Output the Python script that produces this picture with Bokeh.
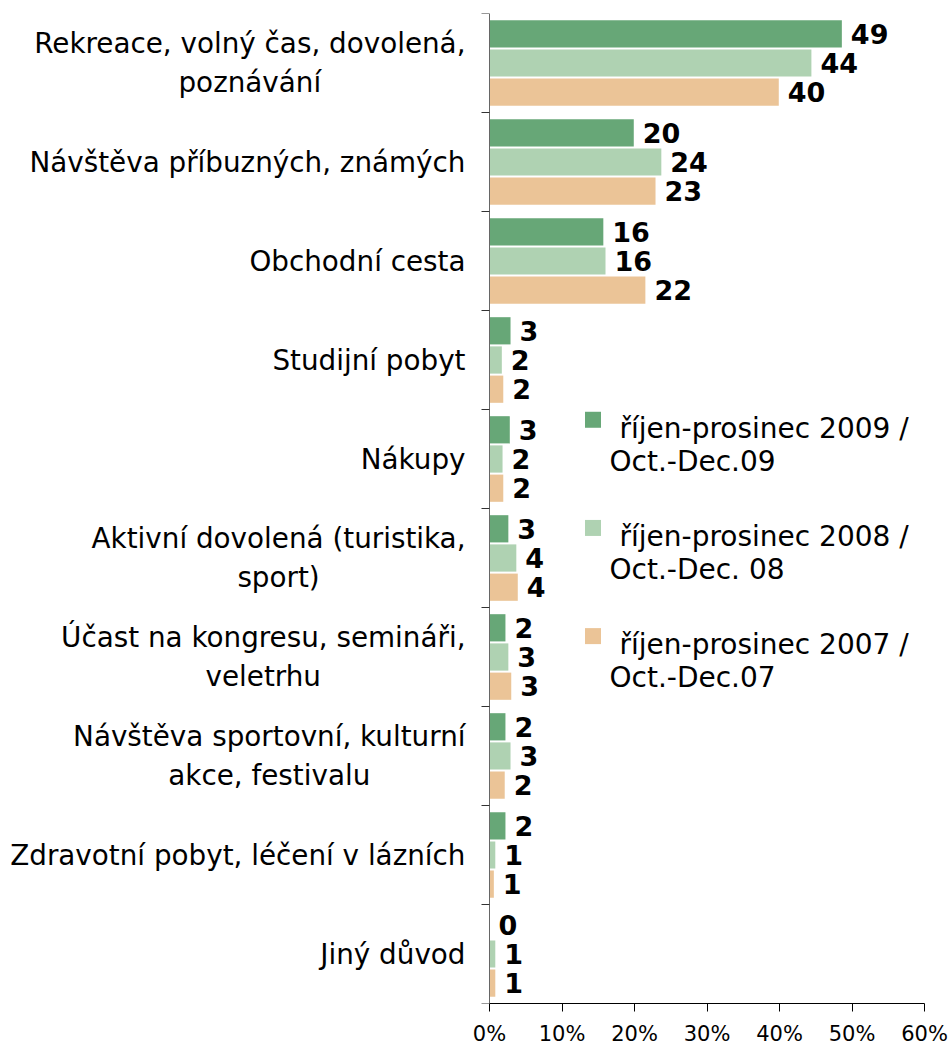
import glob
from bokeh.plotting import figure
from bokeh.models import ColumnDataSource, Range1d, FixedTicker
from bokeh.core.properties import value
from bokeh.embed import file_html
from bokeh.resources import INLINE

# ---------------- data ----------------
categories = [
    "Rekreace, volný čas, dovolená,\npoznávání",
    "Návštěva příbuzných, známých",
    "Obchodní cesta",
    "Studijní pobyt",
    "Nákupy",
    "Aktivní dovolená (turistika,\nsport)",
    "Účast na kongresu, semináři,\nveletrhu",
    "Návštěva sportovní, kulturní\nakce, festivalu",
    "Zdravotní pobyt, léčení v lázních",
    "Jiný důvod",
]
series_line1 = ["říjen-prosinec 2009 /", "říjen-prosinec 2008 /", "říjen-prosinec 2007 /"]
series_line2 = ["Oct.-Dec.09", "Oct.-Dec. 08", "Oct.-Dec.07"]
# bar lengths (%)
v2009 = [48.6, 19.9, 15.7, 2.9, 2.8, 2.6, 2.2, 2.2, 2.2, 0.0]
v2008 = [44.4, 23.7, 16.0, 1.7, 1.8, 3.7, 2.6, 2.9, 0.8, 0.8]
v2007 = [39.9, 22.9, 21.5, 1.9, 1.9, 3.9, 3.0, 2.1, 0.6, 0.8]
# printed value labels
lab2009 = [49, 20, 16, 3, 3, 3, 2, 2, 2, 0]
lab2008 = [44, 24, 16, 2, 2, 4, 3, 3, 1, 1]
lab2007 = [40, 23, 22, 2, 2, 4, 3, 2, 1, 1]
x_ticks = [0, 10, 20, 30, 40, 50, 60]
x_tick_labels = ["0%", "10%", "20%", "30%", "40%", "50%", "60%"]

colors = ["#67A777", "#AFD2B2", "#EBC497"]
FONT = "DejaVu Sans"
CAT_SIZE = 27.8
LEG_SIZE = 28

# ---------------- layout (pixels) ----------------
W, H = 952, 1048
FRAME_TOP, FRAME_BOTTOM = 13, 1006
ZERO_X, FULL_X = 489, 924          # screen x of 0 % and 60 %
XMAX = 60
n = len(categories)
PX = (FULL_X - ZERO_X) / XMAX       # pixels per percent
PY = (FRAME_BOTTOM - FRAME_TOP) / n # pixels per category


def dx(px):
    return (px - ZERO_X) / PX


def dy(py):
    return (py - FRAME_TOP) / PY


def text_width(s, size):
    lines = s.split("\n")
    try:
        from PIL import ImageFont
        path = None
        for cand in glob.glob("/usr/share/fonts/**/DejaVuSans.ttf", recursive=True):
            path = cand
            break
        f = ImageFont.truetype(path or "DejaVuSans.ttf", 100)
        return max(f.getlength(l) for l in lines) * size / 100.0
    except Exception:
        return max(len(l) for l in lines) * size * 0.6


centers = [i + 0.5 for i in range(n)]
offsets = [-0.295, 0.0, 0.295]
bar_h = 0.275

p = figure(width=W, height=H, output_backend="svg", toolbar_location=None,
           x_range=Range1d(dx(0), XMAX), y_range=Range1d(n, 0),
           min_border_left=0, min_border_right=W - FULL_X,
           min_border_top=FRAME_TOP, min_border_bottom=H - FRAME_BOTTOM)
p.outline_line_color = None
p.xgrid.visible = False
p.ygrid.visible = False
p.background_fill_color = "white"

for vals, labs, col, off in zip([v2009, v2008, v2007],
                                [lab2009, lab2008, lab2007],
                                colors, offsets):
    ys = [c + off for c in centers]
    src = ColumnDataSource(dict(y=ys, v=vals, t=[str(l) for l in labs]))
    p.hbar(y="y", left=0, right="v", height=bar_h, source=src,
           fill_color=col, line_color=None)
    p.text(x="v", y="y", text="t", source=src, x_offset=9,
           text_baseline="middle", text_align="left",
           text_font=value(FONT), text_font_style="bold",
           text_font_size="27px", text_color="black")

# category labels: each block right-aligned 24px left of the axis, lines centred
cat_src = ColumnDataSource(dict(
    x=[dx(ZERO_X - 24 - text_width(c, CAT_SIZE) / 2) for c in categories],
    y=centers, t=categories))
p.text(x="x", y="y", text="t", source=cat_src,
       text_align="center", text_baseline="middle",
       text_font=value(FONT), text_font_size=f"{CAT_SIZE}px",
       text_line_height=1.2, text_color="black")

# legend (drawn by hand so that the swatch sits on the first text line)
LEG_STEP = 108.5
leg_k = list(range(len(colors)))
p.scatter(x=[dx(592.5)] * 3, y=[dy(420.5 + k * LEG_STEP) for k in leg_k],
          marker="square", size=16, fill_color=colors, line_color=None)
p.text(x=[dx(619)] * 3, y=[dy(429 + k * LEG_STEP) for k in leg_k],
       text=series_line1, text_baseline="alphabetic", text_align="left",
       text_font=value(FONT), text_font_size=f"{LEG_SIZE}px", text_color="black")
p.text(x=[dx(609)] * 3, y=[dy(462 + k * LEG_STEP) for k in leg_k],
       text=series_line2, text_baseline="alphabetic", text_align="left",
       text_font=value(FONT), text_font_size=f"{LEG_SIZE}px", text_color="black")

# axes
xa = p.xaxis[0]
xa.bounds = (0, XMAX)
xa.ticker = FixedTicker(ticks=x_ticks)
xa.major_label_overrides = {t: l for t, l in zip(x_ticks, x_tick_labels)}
xa.major_tick_in = 0
xa.major_tick_out = 8
xa.minor_tick_out = 0
xa.minor_tick_in = 0
xa.axis_line_color = "black"
xa.major_tick_line_color = "black"
xa.major_label_standoff = 10
xa.major_label_text_font = FONT
xa.major_label_text_font_size = "21px"
xa.major_label_text_color = "black"

ya = p.yaxis[0]
ya.fixed_location = 0
ya.ticker = FixedTicker(ticks=list(range(n + 1)))
ya.major_label_text_color = None
ya.major_label_text_font_size = "1px"
ya.major_tick_in = 0
ya.major_tick_out = 8
ya.minor_tick_out = 0
ya.minor_tick_in = 0
ya.axis_line_color = "#666666"
ya.major_tick_line_color = "#333333"

open("out.html", "w").write(file_html(p, INLINE))
